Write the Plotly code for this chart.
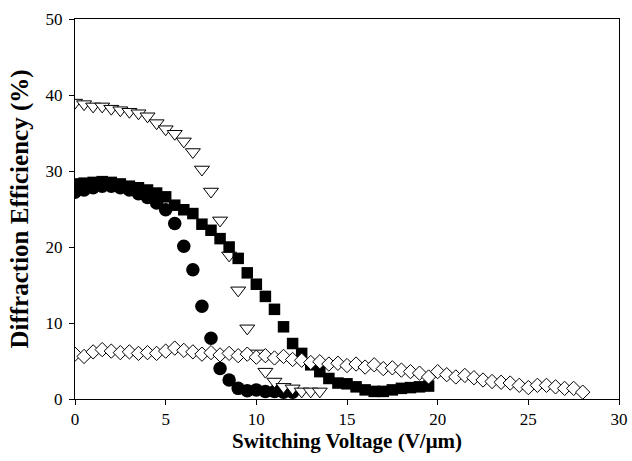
import plotly.graph_objects as go

# x values (V/um)
x_tri = [i * 0.5 for i in range(28)]          # 0 .. 13.5
x_circ = [i * 0.5 for i in range(25)]         # 0 .. 12
x_sq = [i * 0.5 for i in range(40)]           # 0 .. 19.5
x_dia = [i * 0.5 for i in range(57)]          # 0 .. 28

y_tri = [39.0, 38.8, 38.5, 38.5, 38.2, 38.0, 37.8, 37.6, 37.2, 36.3,
         35.5, 34.9, 33.9, 32.5, 30.2, 27.3, 23.5, 18.9, 14.3, 9.3,
         6.0, 3.6, 2.3, 1.6, 1.4, 1.0, 1.0, 1.0]
y_circ = [27.2, 27.5, 27.8, 28.0, 28.0, 27.8, 27.5, 27.0, 26.5, 25.8,
          24.9, 23.1, 20.1, 17.0, 12.2, 8.0, 4.0, 2.5, 1.4, 1.1,
          1.2, 1.0, 1.0, 0.9, 0.9]
y_sq = [28.3, 28.4, 28.5, 28.6, 28.5, 28.3, 28.0, 27.8, 27.5, 27.1,
        26.6, 25.5, 24.9, 24.4, 23.0, 22.2, 21.1, 20.0, 18.5, 16.6,
        15.1, 13.5, 11.8, 9.5, 7.3, 6.0, 4.5, 3.6, 2.7, 2.1,
        2.0, 1.6, 1.2, 1.0, 1.0, 1.2, 1.4, 1.5, 1.6, 1.7]
y_dia = [5.9, 5.6, 6.2, 6.5, 6.3, 6.1, 6.2, 6.0, 6.1, 6.0,
         6.3, 6.7, 6.4, 6.2, 5.9, 6.1, 5.8, 6.0, 5.7, 5.9,
         5.5, 5.7, 5.4, 5.6, 5.2, 5.1, 4.8, 4.9, 4.6, 4.7,
         4.4, 4.6, 4.2, 4.5, 4.0, 4.1, 3.8, 3.6, 3.4, 2.9,
         3.6, 3.2, 2.9, 3.1, 2.8, 2.5, 2.3, 2.2, 2.1, 1.8,
         1.5, 1.8, 1.8, 1.6, 1.4, 1.4, 0.9]

x_ticks = [0, 5, 10, 15, 20, 25, 30]
y_ticks = [0, 10, 20, 30, 40, 50]

fig = go.Figure()
fig.add_trace(go.Scatter(x=x_circ, y=y_circ, mode="markers",
                         marker=dict(symbol="circle", size=13.5, color="black",
                                     line=dict(width=0))))
fig.add_trace(go.Scatter(x=x_tri, y=y_tri, mode="markers",
                         marker=dict(symbol="triangle-down", size=13, color="white",
                                     line=dict(width=1, color="black"))))
fig.add_trace(go.Scatter(x=x_sq, y=y_sq, mode="markers",
                         marker=dict(symbol="square", size=11.5, color="black",
                                     line=dict(width=0))))
fig.add_trace(go.Scatter(x=x_dia, y=y_dia, mode="markers",
                         marker=dict(symbol="diamond", size=11, color="white",
                                     line=dict(width=1, color="black"))))

font_family = "Liberation Serif"
fig.update_layout(
    width=632, height=461,
    margin=dict(l=75, r=13, t=19, b=62),
    paper_bgcolor="white", plot_bgcolor="white",
    showlegend=False,
    font=dict(family=font_family, color="black", size=17),
    xaxis=dict(range=[0, 30], tickvals=x_ticks, ticks="outside", ticklen=5,
               tickcolor="black", showline=True, linecolor="black", linewidth=1,
               mirror=True, showgrid=False, zeroline=False, automargin=False,
               tickfont=dict(size=17, family=font_family),
               title=dict(text="<b>Switching Voltage (V/μm)</b>",
                          font=dict(size=21, family=font_family), standoff=3)),
    yaxis=dict(range=[0, 50], tickvals=y_ticks, ticks="outside", ticklen=5,
               tickcolor="black", showline=True, linecolor="black", linewidth=1,
               mirror=True, showgrid=False, zeroline=False, automargin=False,
               ticklabelstandoff=3,
               tickfont=dict(size=17, family=font_family),
               title=dict(text="<b>Diffraction Efficiency (%)</b>",
                          font=dict(size=25, family=font_family), standoff=9)),
)
fig.write_html("out.html")
